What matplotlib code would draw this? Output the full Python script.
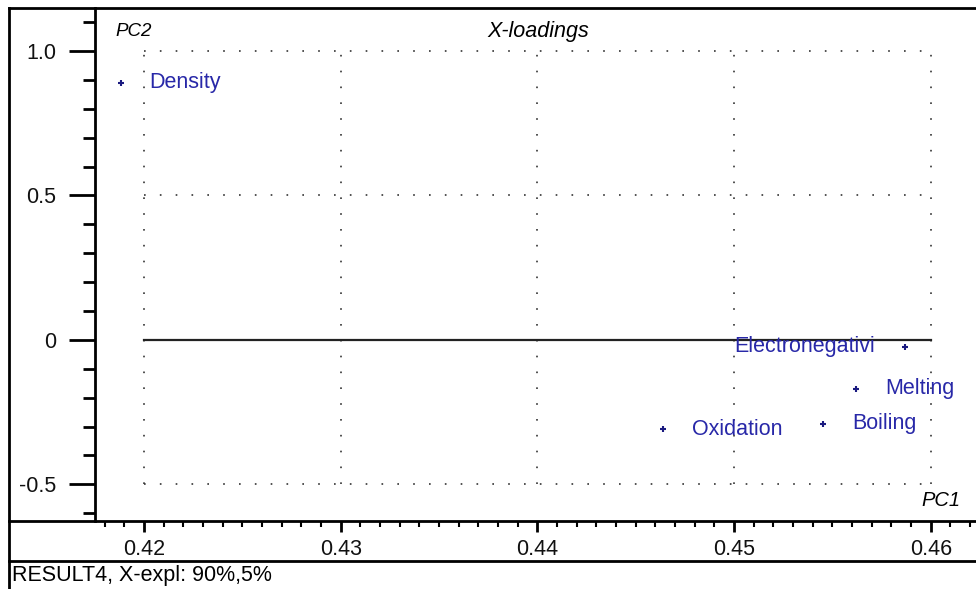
import matplotlib
matplotlib.use("Agg")
import matplotlib.pyplot as plt
from matplotlib.lines import Line2D
from matplotlib.ticker import MultipleLocator

plt.rcParams['font.family'] = ['Liberation Sans', 'DejaVu Sans']

names = ["Density", "Electronegativi", "Melting", "Boiling", "Oxidation"]
pc1 = [0.4188, 0.4587, 0.4562, 0.4545, 0.4464]
pc2 = [0.891, -0.024, -0.170, -0.291, -0.310]
xticks = [0.42, 0.43, 0.44, 0.45, 0.46]
yticks = [-0.5, 0, 0.5, 1.0]
ytick_labels = ["-0.5", "0", "0.5", "1.0"]
grid_y = [-0.5, 0.5, 1.0]
title = "X-loadings"
footer = "RESULT4, X-expl: 90%,5%"

W, H = 976, 589
fig = plt.figure(figsize=(W / 100, H / 100), dpi=100)

def fx(px):
    return px / W

def fy(py):
    return 1 - py / H

ax = fig.add_axes([fx(95), fy(521), fx(976) - fx(95), fy(8) - fy(521)])
ax.set_xlim(0.4175, 0.4623)
ax.set_ylim(-0.627, 1.149)

for s in ["top", "right", "bottom"]:
    ax.spines[s].set_visible(False)
ax.spines["left"].set_linewidth(2)

ax.set_xticks(xticks)
ax.set_xticklabels([f"{v:.2f}" for v in xticks])
ax.xaxis.set_minor_locator(MultipleLocator(0.001))
ax.set_yticks(yticks)
ax.set_yticklabels(ytick_labels)
ax.yaxis.set_minor_locator(MultipleLocator(0.1))
ax.tick_params(axis="y", which="major", direction="out", length=19, width=2,
               labelsize=15.5, pad=9, color="black", labelcolor="#111111")
ax.tick_params(axis="y", which="minor", direction="out", length=9, width=2)
ax.tick_params(axis="x", which="major", direction="out", length=8, width=2,
               labelsize=15.5, pad=5, labelcolor="#111111")
ax.tick_params(axis="x", which="minor", direction="out", length=4, width=1.5)

# dotted grid
gx0, gx1 = xticks[0], xticks[-1]
gy0, gy1 = min(grid_y), max(grid_y)
dots = (0, (1, 8.5))
for xv in xticks:
    ax.plot([xv, xv], [gy0, gy1], color="#333333", lw=1.2,
            linestyle=dots, zorder=1)
for yv in grid_y:
    ax.plot([gx0, gx1], [yv, yv], color="#333333", lw=1.2,
            linestyle=dots, zorder=1)
ax.plot([gx0, gx1], [0, 0], color="#222222", lw=1.6, zorder=2)

# points and labels
ax.scatter(pc1, pc2, marker="+", s=18, linewidths=1.5, color="#1a1a80", zorder=3)
for n, x, y in zip(names, pc1, pc2):
    if n == "Electronegativi":
        ax.annotate(n, (x, y), xytext=(-22, 0), textcoords="offset points",
                    ha="right", va="center", fontsize=15.5, color="#2828a8")
    else:
        ax.annotate(n, (x, y), xytext=(21, 0), textcoords="offset points",
                    ha="left", va="center", fontsize=15.5, color="#2828a8")

# axis captions
fig.text(fx(115), fy(31), "PC2", fontsize=13.5, style="italic", va="center", ha="left")
fig.text(fx(538), fy(31), title, fontsize=15.5, style="italic", va="center", ha="center")
fig.text(fx(961), fy(500), "PC1", fontsize=14.5, style="italic", va="center", ha="right")
fig.text(fx(12), fy(576), footer, fontsize=15.5, va="center", ha="left")

# frame lines
frame = [
    ([9, 976], [8, 8]),
    ([9, 9], [8, 589]),
    ([9, 976], [521, 521]),
    ([9, 976], [561, 561]),
]
for xs, ys in frame:
    fig.add_artist(Line2D([fx(v) for v in xs], [fy(v) for v in ys],
                          color="black", lw=2, transform=fig.transFigure))

fig.savefig("out.png", dpi=100)
